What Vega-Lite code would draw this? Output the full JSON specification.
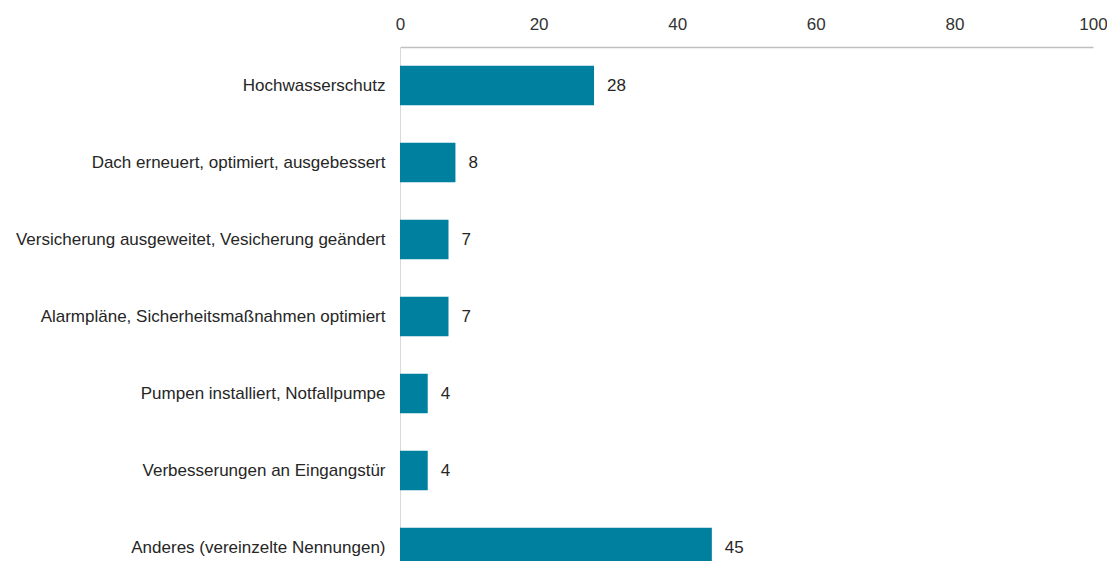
{
  "$schema": "https://vega.github.io/schema/vega-lite/v6.json",
  "autosize": "none",
  "width": 693,
  "height": 539,
  "padding": {"left": 400, "top": 47, "right": 14, "bottom": 0},
  "background": "white",
  "config": {"view": {"stroke": null}, "font": "Liberation Sans"},
  "data": {
    "values": [
      {"kategorie": "Hochwasserschutz", "wert": 28},
      {"kategorie": "Dach erneuert, optimiert, ausgebessert", "wert": 8},
      {"kategorie": "Versicherung ausgeweitet, Vesicherung geändert", "wert": 7},
      {"kategorie": "Alarmpläne, Sicherheitsmaßnahmen optimiert", "wert": 7},
      {"kategorie": "Pumpen installiert, Notfallpumpe", "wert": 4},
      {"kategorie": "Verbesserungen an Eingangstür ", "wert": 4},
      {"kategorie": "Anderes (vereinzelte Nennungen)", "wert": 45}
    ]
  },
  "encoding": {
    "y": {
      "field": "kategorie",
      "type": "nominal",
      "sort": null,
      "scale": {"paddingInner": 0.49, "paddingOuter": 0.245},
      "axis": {
        "title": null,
        "ticks": false,
        "labelPadding": 15,
        "labelFontSize": 17,
        "labelColor": "#262626",
        "labelLimit": 400,
        "domainColor": "#d9d9d9",
        "domainWidth": 1
      }
    },
    "x": {
      "field": "wert",
      "type": "quantitative",
      "scale": {"domain": [0, 100], "nice": false},
      "axis": {
        "orient": "top",
        "title": null,
        "values": [0, 20, 40, 60, 80, 100],
        "ticks": false,
        "grid": false,
        "labelPadding": 14,
        "labelFontSize": 17,
        "labelColor": "#333333",
        "domainColor": "#bfbfbf",
        "domainWidth": 1.5,
        "labelFlush": false
      }
    }
  },
  "layer": [
    {"mark": {"type": "bar", "color": "#00809f"}},
    {
      "mark": {"type": "text", "align": "left", "baseline": "middle", "dx": 13, "fontSize": 17, "color": "#262626"},
      "encoding": {"text": {"field": "wert", "type": "quantitative"}}
    }
  ]
}
